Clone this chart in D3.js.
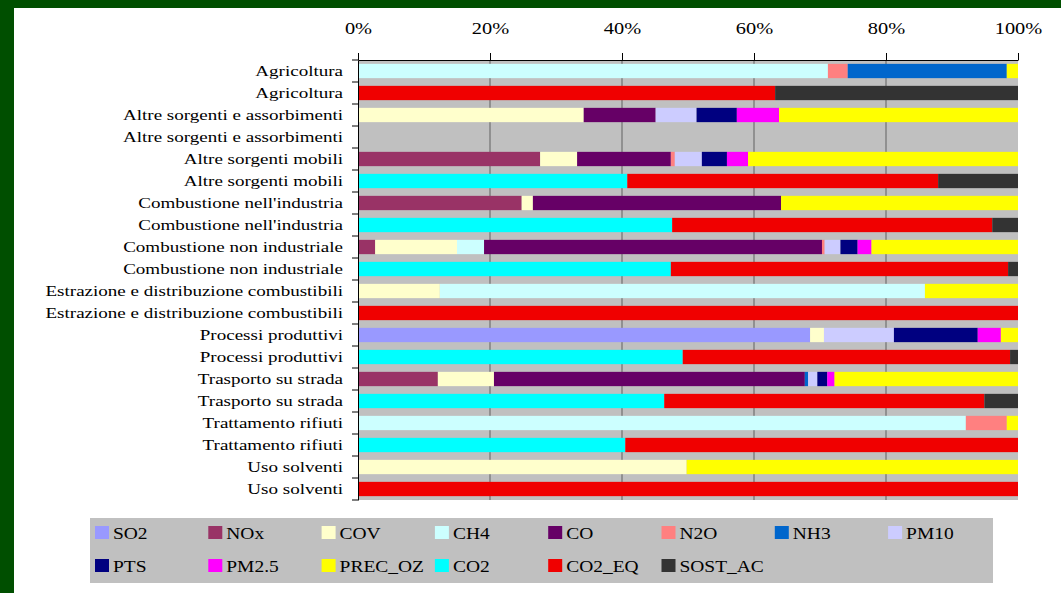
<!DOCTYPE html>
<html>
<head>
<meta charset="utf-8">
<script src="https://cdn.jsdelivr.net/npm/d3@7"></script>
<style>
  body { margin: 0; background: #fff; }
  text { font-family: "Liberation Serif", "Times New Roman", serif; fill: #000; }
</style>
</head>
<body>
<svg id="chart"></svg>
<script>
const width = 1061;
const height = 593;

// row labels, top to bottom (each sector appears twice)
const categories = [
  "Agricoltura", "Agricoltura",
  "Altre sorgenti e assorbimenti", "Altre sorgenti e assorbimenti",
  "Altre sorgenti mobili", "Altre sorgenti mobili",
  "Combustione nell'industria", "Combustione nell'industria",
  "Combustione non industriale", "Combustione non industriale",
  "Estrazione e distribuzione combustibili", "Estrazione e distribuzione combustibili",
  "Processi produttivi", "Processi produttivi",
  "Trasporto su strada", "Trasporto su strada",
  "Trattamento rifiuti", "Trattamento rifiuti",
  "Uso solventi", "Uso solventi"
];

const seriesNames = ["SO2", "NOx", "COV", "CH4", "CO", "N2O", "NH3", "PM10",
  "PTS", "PM2.5", "PREC_OZ", "CO2", "CO2_EQ", "SOST_AC"];
const seriesColors = ["#9999ff", "#993366", "#ffffcc", "#ccffff", "#660066", "#ff8080", "#0066cc", "#ccccff",
  "#000080", "#ff00ff", "#ffff00", "#00ffff", "#f00000", "#333333"];

// percent shares, one value per row
const SO2     = [0, 0, 0, 0, 0, 0, 0, 0, 0, 0, 0, 0, 68.5, 0, 0, 0, 0, 0, 0, 0];
const NOx     = [0, 0, 0, 0, 27.6, 0, 24.8, 0, 2.6, 0, 0, 0, 0, 0, 12.1, 0, 0, 0, 0, 0];
const COV     = [0, 0, 34.2, 0, 5.6, 0, 1.7, 0, 12.4, 0, 12.4, 0, 2.1, 0, 8.5, 0, 0, 0, 49.8, 0];
const CH4     = [71.2, 0, 0, 0, 0, 0, 0, 0, 4.1, 0, 73.5, 0, 0, 0, 0, 0, 92.1, 0, 0, 0];
const CO      = [0, 0, 10.9, 0, 14.2, 0, 37.6, 0, 51.2, 0, 0, 0, 0, 0, 47.1, 0, 0, 0, 0, 0];
const N2O     = [3.0, 0, 0, 0, 0.6, 0, 0, 0, 0.4, 0, 0, 0, 0, 0, 0, 0, 6.2, 0, 0, 0];
const NH3     = [24.1, 0, 0, 0, 0, 0, 0, 0, 0, 0, 0, 0, 0, 0, 0.5, 0, 0, 0, 0, 0];
const PM10    = [0, 0, 6.2, 0, 4.1, 0, 0, 0, 2.4, 0, 0, 0, 10.6, 0, 1.4, 0, 0, 0, 0, 0];
const PTS     = [0, 0, 6.1, 0, 3.8, 0, 0, 0, 2.6, 0, 0, 0, 12.7, 0, 1.5, 0, 0, 0, 0, 0];
const PM25    = [0, 0, 6.4, 0, 3.2, 0, 0, 0, 2.1, 0, 0, 0, 3.5, 0, 1.1, 0, 0, 0, 0, 0];
const PREC_OZ = [1.7, 0, 36.2, 0, 40.9, 0, 35.9, 0, 22.2, 0, 14.1, 0, 2.6, 0, 27.8, 0, 1.7, 0, 50.2, 0];
const CO2     = [0, 0, 0, 0, 0, 40.8, 0, 47.6, 0, 47.4, 0, 0, 0, 49.2, 0, 46.4, 0, 40.5, 0, 0];
const CO2_EQ  = [0, 63.2, 0, 0, 0, 47.1, 0, 48.5, 0, 51.1, 0, 100, 0, 49.6, 0, 48.5, 0, 59.5, 0, 100];
const SOST_AC = [0, 36.8, 0, 0, 0, 12.1, 0, 3.9, 0, 1.5, 0, 0, 0, 1.2, 0, 5.1, 0, 0, 0, 0];

const xTicks = [0, 20, 40, 60, 80, 100];

const seriesValues = [SO2, NOx, COV, CH4, CO, N2O, NH3, PM10, PTS, PM25, PREC_OZ, CO2, CO2_EQ, SOST_AC];
const table = categories.map((c, i) => {
  const row = { idx: i, name: c };
  seriesNames.forEach((s, j) => row[s] = seriesValues[j][i]);
  return row;
});

const svg = d3.select("#chart")
  .attr("width", width)
  .attr("height", height);

// green frame
svg.append("rect").attr("x", 0).attr("y", 0).attr("width", width).attr("height", 8).attr("fill", "#004f00");
svg.append("rect").attr("x", 0).attr("y", 0).attr("width", 14).attr("height", height).attr("fill", "#004f00");

const plotLeft = 358, plotRight = 1018, plotTop = 60, plotBottom = 500;

const x = d3.scaleLinear().domain([0, 100]).range([plotLeft, plotRight]);
const y = d3.scaleBand()
  .domain(d3.range(categories.length))
  .range([plotTop, plotBottom])
  .paddingInner(0.35)
  .paddingOuter(0.175);

// plot background
svg.append("rect")
  .attr("x", plotLeft).attr("y", plotTop)
  .attr("width", plotRight - plotLeft).attr("height", plotBottom - plotTop)
  .attr("fill", "#c0c0c0");

// gridlines
svg.append("g")
  .selectAll("line")
  .data(xTicks.slice(1, -1))
  .join("line")
  .attr("x1", (d) => x(d)).attr("x2", (d) => x(d))
  .attr("y1", plotTop).attr("y2", plotBottom)
  .attr("stroke", "#606060")
  .attr("stroke-width", 1);

const stacked = d3.stack().keys(seriesNames)(table);

svg.append("g")
  .selectAll("g")
  .data(stacked)
  .join("g")
  .attr("fill", (d, i) => seriesColors[i])
  .selectAll("rect")
  .data((d) => d.filter((p) => p[1] - p[0] > 0))
  .join("rect")
  .attr("x", (d) => x(d[0]))
  .attr("width", (d) => x(d[1]) - x(d[0]))
  .attr("y", (d) => y(d.data.idx))
  .attr("height", y.bandwidth());

// top axis
const xAxis = svg.append("g")
  .attr("transform", "translate(0," + plotTop + ")")
  .call(d3.axisTop(x).tickValues(xTicks).tickFormat((d) => d + "%").tickSize(7).tickSizeOuter(0).tickPadding(19));
xAxis.select(".domain").attr("stroke", "#000");
xAxis.selectAll("text")
  .attr("font-size", "17px")
  .attr("transform", "scale(1.2,1)");

// left axis: labels plus ticks between rows
const yAxis = svg.append("g")
  .attr("transform", "translate(" + plotLeft + ",0)")
  .call(d3.axisLeft(y).tickSize(0).tickPadding(11.8).tickFormat((i) => categories[i]));
yAxis.select(".domain").attr("stroke", "#000");
yAxis.selectAll("text")
  .attr("font-size", "15px")
  .attr("transform", "scale(1.27,1)");

svg.append("g")
  .selectAll("line")
  .data(d3.range(categories.length + 1))
  .join("line")
  .attr("x1", plotLeft - 6).attr("x2", plotLeft)
  .attr("y1", (i) => plotTop + i * y.step())
  .attr("y2", (i) => plotTop + i * y.step())
  .attr("stroke", "#000");

// legend
const legend = svg.append("g");
legend.append("rect")
  .attr("x", 90).attr("y", 518)
  .attr("width", 903).attr("height", 65)
  .attr("fill", "#c0c0c0");

const item = legend.selectAll("g.item")
  .data(seriesNames)
  .join("g")
  .attr("class", "item")
  .attr("transform", (d, i) => "translate(" + (95 + (i % 8) * 113.3) + "," + (533 + Math.floor(i / 8) * 33) + ")");
item.append("rect")
  .attr("x", 0).attr("y", -7)
  .attr("width", 14).attr("height", 13)
  .attr("fill", (d, i) => seriesColors[i]);
item.append("text")
  .attr("transform", "translate(18,0) scale(1.18,1)")
  .attr("dy", "0.35em")
  .attr("font-size", "16.5px")
  .text((d) => d);
</script>
</body>
</html>
